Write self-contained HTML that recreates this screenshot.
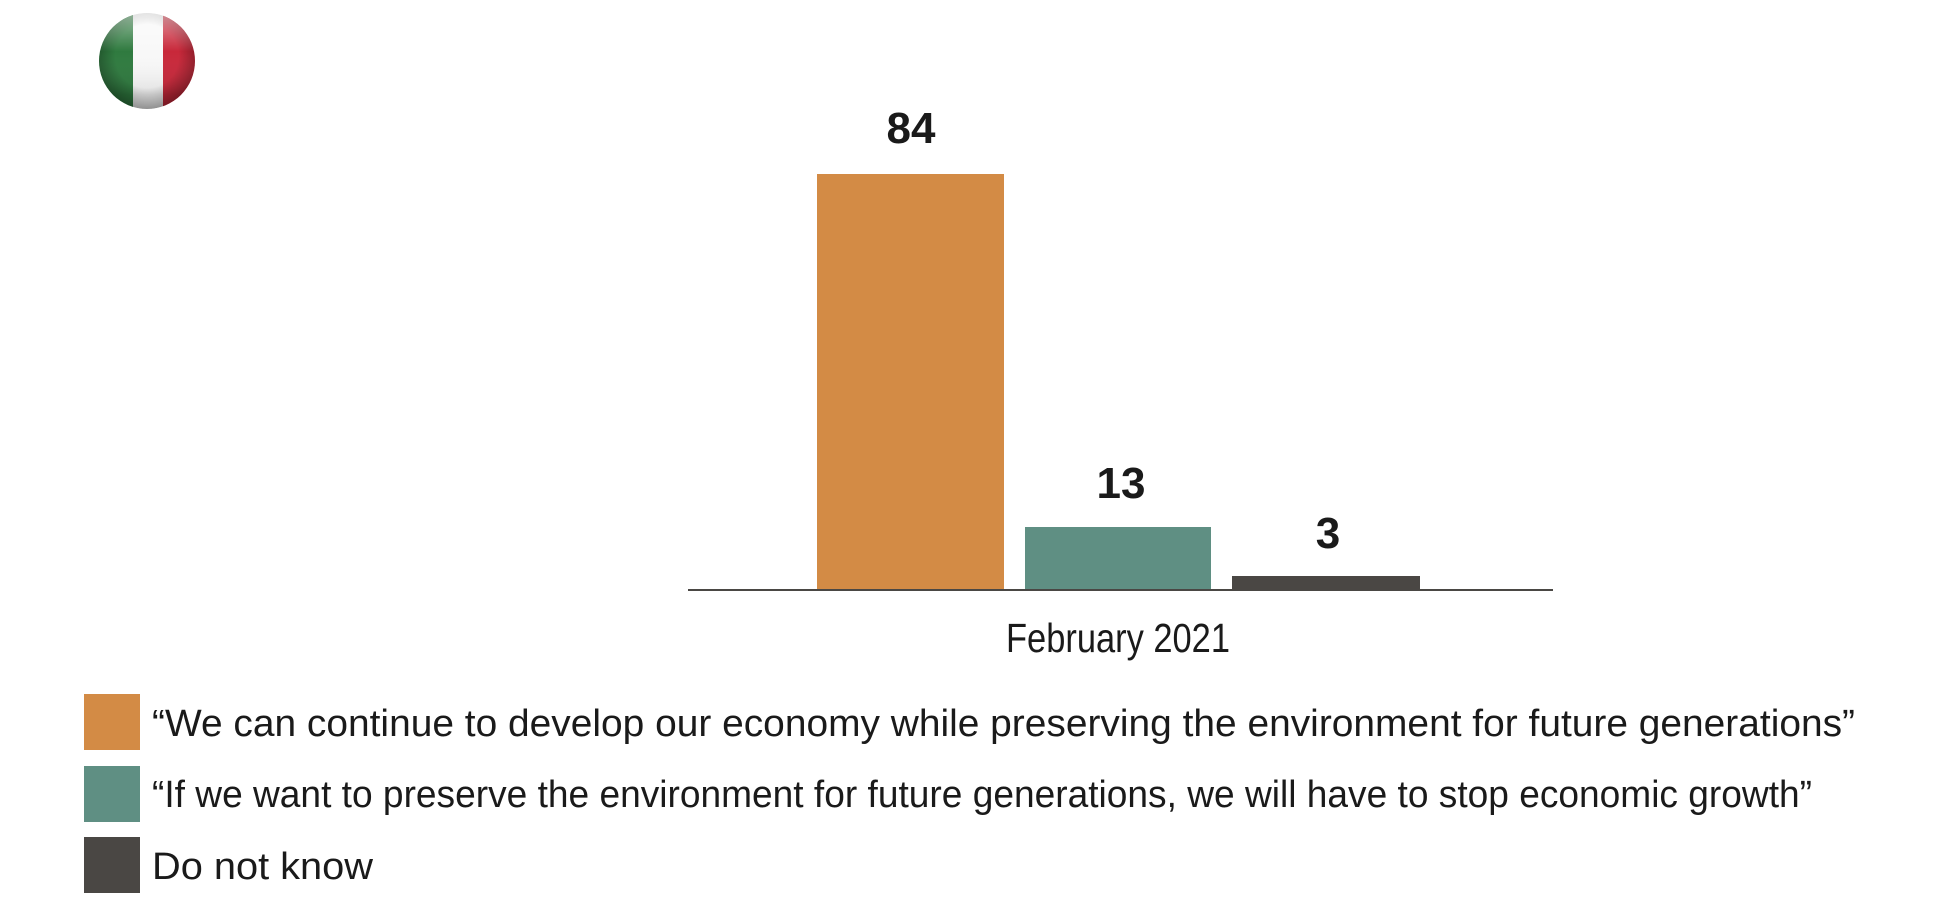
<!DOCTYPE html>
<html><head><meta charset="utf-8"><style>
html,body{margin:0;padding:0;background:#fff;}
svg{display:block;}
</style></head><body>
<svg width="1948" height="908" viewBox="0 0 1948 908" xmlns="http://www.w3.org/2000/svg">
<defs>
<clipPath id="c"><circle cx="147" cy="61" r="48"/></clipPath>
<radialGradient id="sh" cx="0.5" cy="0.45" r="0.55">
<stop offset="0.6" stop-color="#000" stop-opacity="0"/>
<stop offset="1" stop-color="#000" stop-opacity="0.35"/>
</radialGradient>
<linearGradient id="hl" x1="0" y1="0" x2="0" y2="1">
<stop offset="0" stop-color="#fff" stop-opacity="0.5"/>
<stop offset="0.4" stop-color="#fff" stop-opacity="0"/>
<stop offset="0.85" stop-color="#000" stop-opacity="0.1"/>
</linearGradient>
</defs>
<g clip-path="url(#c)">
<rect x="99" y="13" width="34" height="96" fill="#2f7a3f"/>
<rect x="133" y="13" width="30" height="96" fill="#f8f8f8"/>
<rect x="163" y="13" width="34" height="96" fill="#c8283a"/>
<circle cx="147" cy="61" r="48" fill="url(#sh)"/>
<circle cx="147" cy="61" r="48" fill="url(#hl)"/>
</g>
<rect x="817" y="174" width="187" height="416" fill="#d38b45"/>
<rect x="1025" y="527" width="186" height="63" fill="#5f8f83"/>
<rect x="1232" y="576" width="188" height="14" fill="#4a4744"/>
<rect x="688" y="589" width="865" height="2" fill="#4a4744"/>
<g font-family="'Liberation Sans Narrow','Liberation Sans',sans-serif" font-weight="bold" font-size="44" fill="#1a1a1a" text-anchor="middle">
<text x="911" y="143">84</text>
<text x="1121" y="498">13</text>
<text x="1328" y="548">3</text>
</g>
<text x="1118" y="652" font-family="'Liberation Sans Narrow','Liberation Sans',sans-serif" font-size="41" fill="#1a1a1a" text-anchor="middle" textLength="224" lengthAdjust="spacingAndGlyphs">February 2021</text>
<rect x="84" y="694" width="56" height="56" fill="#d38b45"/>
<rect x="84" y="766" width="56" height="56" fill="#5f8f83"/>
<rect x="84" y="837" width="56" height="56" fill="#4a4744"/>
<g font-family="'Liberation Sans',sans-serif" font-size="38" fill="#1a1a1a">
<text x="152" y="736" textLength="1703" lengthAdjust="spacingAndGlyphs">“We can continue to develop our economy while preserving the environment for future generations”</text>
<text x="152" y="807" textLength="1660" lengthAdjust="spacingAndGlyphs">“If we want to preserve the environment for future generations, we will have to stop economic growth”</text>
<text x="152" y="879" textLength="221" lengthAdjust="spacingAndGlyphs">Do not know</text>
</g>
</svg>
</body></html>
